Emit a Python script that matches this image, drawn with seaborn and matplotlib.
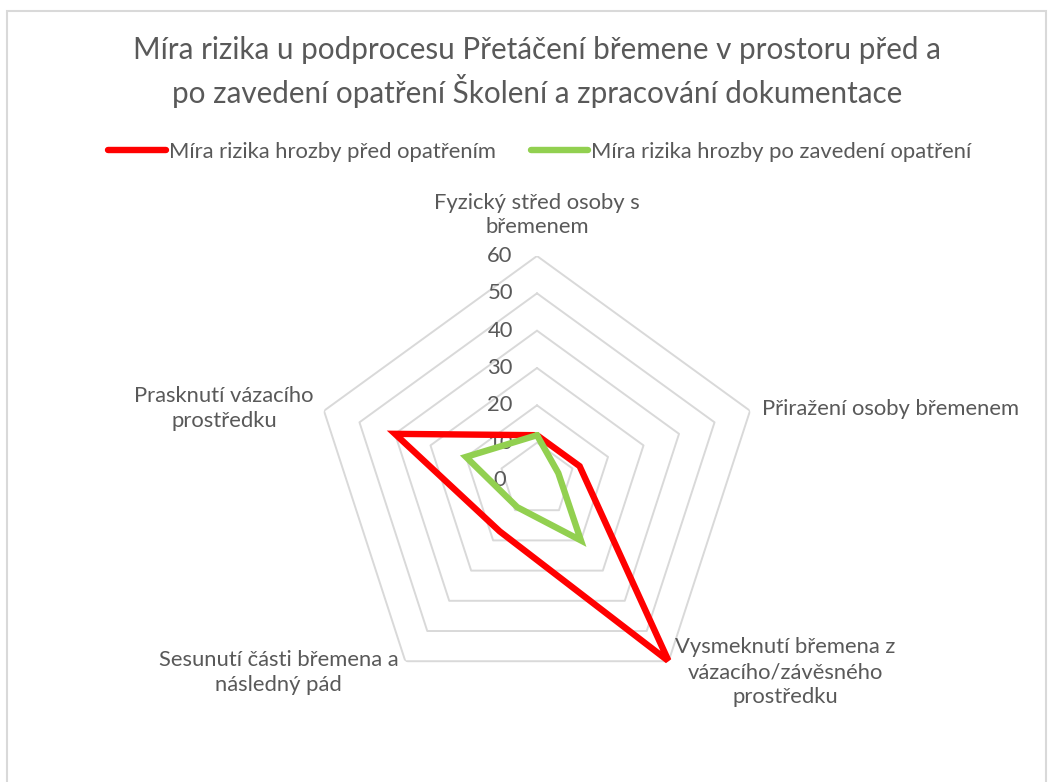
import numpy as np
import pandas as pd
import matplotlib
matplotlib.use('Agg')
import matplotlib.pyplot as plt
import seaborn as sns
from matplotlib.patches import Rectangle

# categories of the radar chart (clockwise from top)
categories = [
    'Fyzický střed osoby s\nbřemenem',
    'Přiražení osoby břemenem',
    'Vysmeknutí břemena z\nvázacího/závěsného\nprostředku',
    'Sesunutí části břemena a\nnásledný pád',
    'Prasknutí vázacího\nprostředku',
]
before_vals = [12, 12, 60, 17, 40]
after_vals = [12, 6, 20, 9, 20]
series_names = ['Míra rizika hrozby před opatřením',
                'Míra rizika hrozby po zavedení opatření']
r_ticks = [0, 10, 20, 30, 40, 50, 60]
title = ('Míra rizika u podprocesu Přetáčení břemene v prostoru před a\n'
         'po zavedení opatření Školení a zpracování dokumentace')

sns.set_theme(style='white')
plt.rcParams['font.family'] = ['Lato', 'DejaVu Sans']
txt_col = '#595959'
grid_col = '#D9D9D9'
palette = {series_names[0]: '#FF0000', series_names[1]: '#92D050'}
fs = 15.8

W, H = 1053, 782
fig = plt.figure(figsize=(W / 100, H / 100), dpi=100)
fig.patch.set_facecolor('white')

# outer chart border
fig.patches.append(Rectangle((7 / W, -0.05), 1039 / W, 1 - 11 / H + 0.05,
                             transform=fig.transFigure, fill=False,
                             edgecolor='#D9D9D9', linewidth=1.5))

cx, cy, R = 537, 480, 224
ax = fig.add_axes([(cx - R) / W, (H - cy - R) / H, 2 * R / W, 2 * R / H],
                  projection='polar')
ax.set_theta_zero_location('N')
ax.set_theta_direction(-1)
ax.set_ylim(0, 60)
ax.grid(False)
ax.spines['polar'].set_visible(False)
ax.set_xticks([])
ax.set_yticks([])
ax.set_facecolor('none')

n = len(categories)
angles = np.arange(n) * 2 * np.pi / n
closed = np.append(angles, 2 * np.pi)

# pentagon gridlines
for t in r_ticks[1:]:
    ax.plot(closed, [t] * (n + 1), color=grid_col, linewidth=1.4, zorder=1)

# data (closed loop, last point at 2*pi)
rows = []
for name, vals in zip(series_names, [before_vals, after_vals]):
    for i in range(n + 1):
        rows.append({'angle': closed[i], 'value': vals[i % n], 'series': name})
df = pd.DataFrame(rows)
sns.lineplot(data=df, x='angle', y='value', hue='series', palette=palette,
             sort=False, estimator=None, linewidth=4.6, ax=ax, legend=False,
             zorder=3, solid_joinstyle='miter')
ax.set_xlabel('')
ax.set_ylabel('')

# radial tick labels
for t in r_ticks:
    ax.annotate(str(t), xy=(0, t), xytext=(-37, 0), textcoords='offset pixels',
                ha='center', va='center', fontsize=fs, color=txt_col,
                zorder=2)

# category labels
label_offsets = [(0, 41, 'center'), (12, 2, 'left'), (117, -11, 'center'),
                 (-127, -11, 'center'), (-100, 2, 'center')]
for ang, lab, (ox, oy, ha) in zip(angles, categories, label_offsets):
    ax.annotate(lab, xy=(ang, 60), xytext=(ox, oy), textcoords='offset pixels',
                ha=ha, va='center', multialignment='center', fontsize=fs,
                color=txt_col, linespacing=1.3, annotation_clip=False)

fig.text(0.51, 1 - 72 / H, title, ha='center', va='center', fontsize=21.3,
         color=txt_col, linespacing=1.35)

handles = [plt.Line2D([], [], color=palette[s], linewidth=4.6,
                      solid_capstyle='round') for s in series_names]
fig.legend(handles, series_names, loc='center', bbox_to_anchor=(540 / W, 1 - 152 / H),
           ncol=2, frameon=False, fontsize=fs, handlelength=2.6,
           handletextpad=0.15, columnspacing=1.6, labelcolor=txt_col)

fig.savefig('out.png', dpi=100)
